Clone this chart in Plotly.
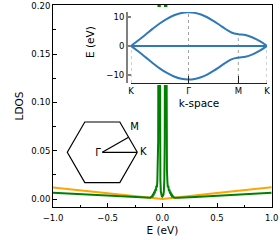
import plotly.graph_objects as go

W, H = 280, 240

# ---------------- data ----------------
e_orange = [-1.0, -0.5, 0.0, 0.5, 1.0]
ldos_orange = [0.0118, 0.0059, 0.0, 0.0061, 0.0122]

e_green = [-1.0, -0.75, -0.5, -0.3, -0.15, -0.11, -0.095, -0.09, -0.085, -0.08,
           -0.075, -0.07, -0.065, -0.06, -0.055, -0.05, -0.046, -0.042, -0.038,
           -0.034, -0.030, -0.026, -0.022, -0.018, -0.014, -0.010, -0.005, 0.0,
           0.005, 0.010, 0.014, 0.018, 0.022, 0.026, 0.030, 0.034, 0.038, 0.042,
           0.046, 0.05, 0.055, 0.06, 0.065, 0.07, 0.075, 0.08, 0.085, 0.09, 0.095,
           0.11, 0.15, 0.3, 0.5, 0.75, 1.0]
ldos_green = [0.0065, 0.0049, 0.0033, 0.0020, 0.0012, 0.0012, 0.0030, 0.0018, 0.0055, 0.0035,
              0.0075, 0.0055, 0.0100, 0.0080, 0.0135, 0.0120, 0.0180, 0.0300, 0.0600,
              0.3000, 0.6000, 0.3000, 0.0600, 0.0200, 0.0080, 0.0045, 0.0030, 0.0025,
              0.0030, 0.0045, 0.0080, 0.0200, 0.0600, 0.3000, 0.6000, 0.3000, 0.0600, 0.0300,
              0.0180, 0.0120, 0.0135, 0.0080, 0.0100, 0.0055, 0.0075, 0.0035, 0.0055, 0.0018, 0.0030,
              0.0012, 0.0012, 0.0020, 0.0033, 0.0049, 0.0065]

k_path = [0.00, 0.52, 1.05, 1.57, 2.09, 2.62, 3.14, 3.67, 4.19, 4.64, 5.10,
          5.55, 6.00, 6.46, 6.91, 7.36, 7.82, 8.34, 8.86, 9.39, 9.91]
band_upper = [0.0, 1.87, 3.87, 5.87, 7.74, 9.34, 10.57, 11.35, 11.61, 11.41, 10.83,
              9.89, 8.65, 7.21, 5.75, 4.55, 4.05, 3.75, 2.90, 1.62, 0.0]
band_flat = [0.0, 0.0, 0.0, 0.0, 0.0, 0.0, 0.0, 0.0, 0.0, 0.0, 0.0,
             0.0, 0.0, 0.0, 0.0, 0.0, 0.0, 0.0, 0.0, 0.0, 0.0]
band_lower = [0.0, -1.87, -3.87, -5.87, -7.74, -9.34, -10.57, -11.35, -11.61, -11.41, -10.83,
              -9.89, -8.65, -7.21, -5.75, -4.55, -4.05, -3.75, -2.90, -1.62, 0.0]
k_ticks = [0.00, 4.19, 7.82, 9.91]
k_labels = ["K", "Γ", "M", "K"]
band_e_ticks = [-10, 0, 10]

e_ticks = [-1.0, -0.5, 0.0, 0.5, 1.0]
ldos_ticks = [0.00, 0.05, 0.10, 0.15, 0.20]

hex_x = [1.0, 0.5, -0.5, -1.0, -0.5, 0.5, 1.0]
hex_y = [0.0, 0.866, 0.866, 0.0, -0.866, -0.866, 0.0]
bz_labels = ["Γ", "M", "K"]
bz_px = [0.0, 0.75, 1.0]
bz_py = [0.0, 0.433, 0.0]

# ---------------- geometry helpers (pixels -> paper) ----------------
def dx(a, b):
    return [a / W, b / W]

def dy(top, bottom):
    return [1 - bottom / H, 1 - top / H]

BAND_BLUE = "#2f79b9"
FONT = "DejaVu Sans"

fig = go.Figure()

# main LDOS curves
fig.add_trace(go.Scatter(x=e_orange, y=ldos_orange, mode="lines",
                         line=dict(color="#FFA500", width=2), xaxis="x", yaxis="y"))
fig.add_trace(go.Scatter(x=e_green, y=ldos_green, mode="lines",
                         line=dict(color="#008000", width=2), xaxis="x", yaxis="y"))

# white backdrop for inset
fig.add_trace(go.Scatter(x=[], y=[], mode="lines", xaxis="x2", yaxis="y2"))

# band-structure inset
y3_range = [-12.8, 11.7]
vx, vy = [], []
for kt in k_ticks:
    i = k_path.index(kt)
    vx += [kt, kt, None]
    vy += [y3_range[0], band_upper[i], None]
fig.add_trace(go.Scatter(x=vx, y=vy, mode="lines",
                         line=dict(color="#8a8a8a", width=0.8, dash="dot"),
                         xaxis="x3", yaxis="y3"))
for band in (band_upper, band_flat, band_lower):
    fig.add_trace(go.Scatter(x=k_path, y=band, mode="lines",
                             line=dict(color=BAND_BLUE, width=2, shape="spline"),
                             xaxis="x3", yaxis="y3"))

# Brillouin-zone sketch
fig.add_trace(go.Scatter(x=hex_x, y=hex_y, mode="lines",
                         line=dict(color="black", width=1.2), xaxis="x4", yaxis="y4"))
gx, gy = [], []
for j in (1, 2):
    gx += [bz_px[0], bz_px[j], None]
    gy += [bz_py[0], bz_py[j], None]
fig.add_trace(go.Scatter(x=gx, y=gy, mode="lines",
                         line=dict(color="black", width=1.2), xaxis="x4", yaxis="y4"))
label_off = [(-0.12, -0.03), (0.17, 0.29), (0.17, -0.01)]
fig.add_trace(go.Scatter(x=[p + o[0] for p, o in zip(bz_px, label_off)],
                         y=[p + o[1] for p, o in zip(bz_py, label_off)],
                         mode="text", text=bz_labels, textposition="middle center",
                         textfont=dict(family=FONT, size=10, color="black"),
                         cliponaxis=False, xaxis="x4", yaxis="y4"))

axis_common = dict(showgrid=False, zeroline=False, automargin=False)

fig.update_layout(
    template="none",
    width=W, height=H, margin=dict(l=0, r=0, t=0, b=0, pad=0),
    paper_bgcolor="white", plot_bgcolor="white",
    font=dict(family=FONT, size=8.5, color="black"),
    showlegend=False, hovermode=False,
    xaxis=dict(domain=dx(53, 271.7), anchor="y", range=[-1, 1],
               tickvals=e_ticks, tickformat=".1f",
               ticks="inside", ticklen=4, tickwidth=1, tickcolor="black",
               minor=dict(ticks="inside", ticklen=2.5, dtick=0.25, tick0=-1, tickcolor="black"),
               showline=True, linecolor="black", linewidth=1, mirror=True,
               ticklabelstandoff=3,
               title=dict(text="E (eV)", font=dict(size=10.5), standoff=4),
               **axis_common),
    yaxis=dict(domain=dy(5, 207), anchor="x", range=[-0.00828, 0.2008],
               tickvals=ldos_ticks, tickformat=".2f",
               ticks="inside", ticklen=4, tickwidth=1, tickcolor="black",
               minor=dict(ticks="inside", ticklen=2.5, dtick=0.025, tick0=0, tickcolor="black"),
               showline=True, linecolor="black", linewidth=1, mirror=True,
               title=dict(text="LDOS", font=dict(size=10.5), standoff=5),
               **axis_common),
    xaxis2=dict(domain=dx(131, 267), anchor="y2", visible=False, range=[0, 1]),
    yaxis2=dict(domain=dy(7, 85), anchor="x2", visible=False, range=[0, 1]),
    xaxis3=dict(domain=dx(131, 267), anchor="y3", range=[0, k_path[-1]],
                tickvals=k_ticks, ticktext=k_labels,
                ticks="inside", ticklen=7, tickwidth=1, tickcolor="#222222",
                showline=True, linecolor="#222222", linewidth=1,
                title=dict(text="k-space", font=dict(size=10.5), standoff=4),
                **axis_common),
    yaxis3=dict(domain=dy(12, 83), anchor="free", position=127 / W, range=y3_range,
                tickvals=band_e_ticks,
                ticks="inside", ticklen=3, tickwidth=1.5, tickcolor="#808080",
                showline=True, linecolor="#808080", linewidth=2,
                **axis_common),
    xaxis4=dict(domain=dx(60, 150), anchor="y4", visible=False,
                range=[(60 - 102.3) / 35, (150 - 102.3) / 35]),
    yaxis4=dict(domain=dy(115, 186), anchor="x4", visible=False,
                range=[(152.3 - 186) / 35, (152.3 - 115) / 35]),
    annotations=[dict(text="E (eV)", x=90 / W, y=1 - 42 / H, xref="paper", yref="paper",
                      textangle=-90, showarrow=False, xanchor="center", yanchor="middle",
                      font=dict(size=10.5))],
)

fig.write_html("out.html", config={"displayModeBar": False},
               post_script="document.body.style.margin='0';document.body.style.padding='0';")
